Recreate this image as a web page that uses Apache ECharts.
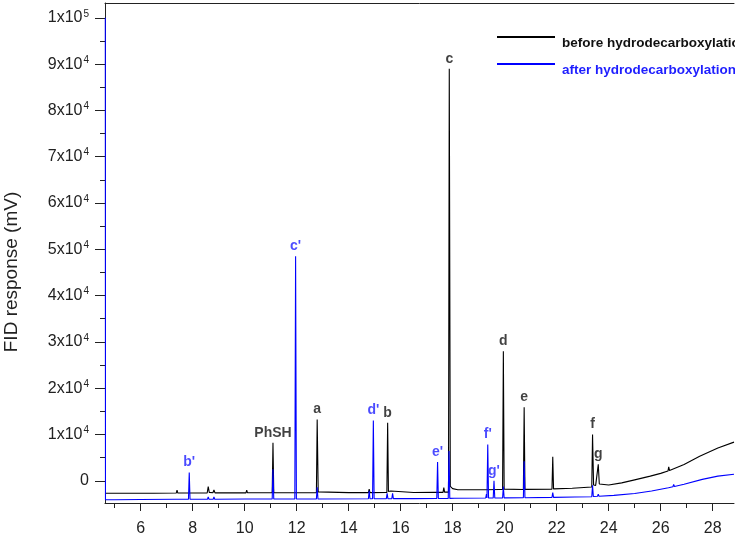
<!DOCTYPE html>
<html><head><meta charset="utf-8">
<script src="https://cdn.jsdelivr.net/npm/echarts@6/dist/echarts.min.js"></script>
<style>html,body{margin:0;padding:0;background:#fff}#c{width:735px;height:537px}</style>
</head><body><div id="c"></div>
<script>
// ---- data ----
const seriesNames = ['before hydrodecarboxylation', 'after hydrodecarboxylation'];

const beforeX = [4.63, 4.9, 5.05, 5.08, 5.11, 5.79, 5.82, 5.85, 6.5, 7.37, 7.4, 7.43, 7.84, 7.87, 7.9,
  8.56, 8.6, 8.64, 8.78, 8.82, 8.86, 9.5, 10.05, 10.08, 10.11, 10.8, 11.06, 11.09, 11.12,
  11.93, 11.96, 11.99, 12.76, 12.79, 12.83, 12.9, 14.0, 14.76, 14.79, 14.82,
  15.47, 15.5, 15.53, 15.58, 15.62, 15.66, 16.5, 17.3, 17.63, 17.66, 17.69,
  17.84, 17.87, 17.91, 18.0, 18.2, 19.0, 19.25, 19.28, 19.31, 19.8, 19.83, 19.86,
  19.92, 19.95, 19.98, 20.05, 20.72, 20.75, 20.78, 21.82, 21.85, 21.88, 22.6,
  23.35, 23.38, 23.42, 23.5, 23.57, 23.6, 23.64, 23.7, 24.0, 24.5, 25.0, 25.6, 26.0,
  26.28, 26.31, 26.34, 26.9, 27.5, 28.2, 28.82];
const beforeY = [-2700, -2700, -2700, -2450, -2700, -2680, -2350, -2680, -2680, -2650, -2000, -2650, -2650, -2300, -2650,
  -2640, -1250, -2500, -2600, -2000, -2620, -2620, -2620, -2000, -2600, -2600, -2600, 8230, -2600,
  -2590, -2300, -2590, -2580, 13250, -2400, -2550, -2560, -2550, -1830, -2550,
  -2540, 12530, -2300, -2400, -2200, -2500, -2520, -2500, -2500, -1470, -2450,
  -2450, 89000, -1200, -1700, -1950, -1950, -1950, -1830, -1950, -1900, -1470, -1900,
  -1900, 27960, -1800, -1900, -1880, 15900, -1850, -1800, 5210, -1750, -1600,
  -1350, 10020, -900, -1000, -700, 3550, -700, -1000, -900, -450, 200, 1000, 1600,
  2100, 3000, 2200, 3500, 5300, 7100, 8350];

const afterX = [4.642, 4.648, 5.0, 6.0, 7.37, 7.4, 7.43, 7.84, 7.87, 7.9,
  8.57, 8.6, 8.63, 8.79, 8.82, 8.85, 10.05, 10.08, 10.11, 11.06, 11.09, 11.12,
  11.93, 11.96, 11.99, 12.76, 12.79, 12.82, 14.76, 14.79, 14.82, 14.92, 14.95, 14.98,
  15.45, 15.48, 15.51, 15.66, 15.69, 15.72, 16.5, 17.39, 17.42, 17.45, 17.83, 17.86, 17.89,
  18.07, 18.1, 18.13, 19.27, 19.3, 19.32, 19.35, 19.38, 19.56, 19.59, 19.62,
  19.92, 19.95, 19.98, 20.72, 20.75, 20.78, 21.82, 21.85, 21.88, 22.7,
  23.35, 23.38, 23.41, 23.57, 23.6, 23.63, 24.2, 25.0, 25.65, 26.3, 26.47, 26.5, 26.53,
  26.9, 27.6, 28.2, 28.82];
const afterY = [100000, -4100, -4100, -4050, -4000, -3600, -4000, -4000, 1770, -4000,
  -3980, -3500, -3980, -3980, -3500, -3980, -3950, -3750, -3950, -3940, 2480, -3940,
  -3930, 48500, -3930, -3920, -1400, -3920, -3880, -2190, -3880, -3880, 13030, -3880,
  -3870, -2700, -3870, -3860, -2700, -3860, -3850, -3820, 4050, -3820, -3800, 6420, -3800,
  -3790, -3500, -3790, -3720, -2900, -3700, 7860, -3720, -3710, 0, -3710,
  -3700, -1250, -3700, -3650, 4200, -3650, -3580, -2540, -3580, -3500,
  -3450, -970, -3400, -3350, -2900, -3350, -3150, -2750, -2200, -1500, -1300, -800, -1250,
  -750, 300, 1000, 1400];

const labelsBefore = ['PhSH', 'a', 'b', 'c', 'd', 'e', 'f', 'g'];
const labelsBeforeX = [11.09, 12.79, 15.5, 17.87, 19.95, 20.75, 23.38, 23.6];
const labelsBeforeY = [8230, 13250, 12530, 89000, 27960, 15900, 10020, 3550];
const labelsAfter = ["b'", "c'", "d'", "e'", "f'", "g'"];
const labelsAfterX = [7.87, 11.96, 14.95, 17.42, 19.35, 19.59];
const labelsAfterY = [1770, 48500, 13030, 4050, 7860, 0];

const xMajorTicks = [6, 8, 10, 12, 14, 16, 18, 20, 22, 24, 26, 28];
const xMinorTicks = [5, 7, 9, 11, 13, 15, 17, 19, 21, 23, 25, 27];
const yMajorTicks = [0, 10000, 20000, 30000, 40000, 50000, 60000, 70000, 80000, 90000, 100000];
const yMinorTicks = [5000, 15000, 25000, 35000, 45000, 55000, 65000, 75000, 85000, 95000];
const yAxisTitle = 'FID response (mV)';

// ---- chart ----
const FONT = '"Liberation Sans", Arial, Helvetica, sans-serif';
const XMIN = 4.63, XMAX = 28.82, YMIN = -4800, YMAX = 103200;
const AX = '#222';
const BLUE = '#1e1eff';
const zip = (xs, ys) => xs.map((x, i) => [x, ys[i]]);

function yFmt(v) {
  if (v === 0) return '0';
  const e = Math.floor(Math.log10(v) + 1e-9);
  const m = Math.round(v / Math.pow(10, e));
  return '{n|' + m + 'x10}{s|' + e + '}';
}

const chart = echarts.init(document.getElementById('c'), null, {renderer: 'canvas'});
const baseX = {type: 'value', min: XMIN, max: XMAX, splitLine: {show: false}, position: 'bottom'};
const baseY = {type: 'value', min: YMIN, max: YMAX, splitLine: {show: false}, position: 'left'};

chart.setOption({
  animation: false,
  backgroundColor: '#fff',
  grid: {left: 105, top: 3, right: 1, bottom: 33, containLabel: false},
  xAxis: [
    Object.assign({}, baseX, {
      axisLine: {show: true, onZero: false, lineStyle: {color: AX, width: 1}},
      axisTick: {show: true, inside: false, length: 8, customValues: xMajorTicks, lineStyle: {color: AX}},
      axisLabel: {show: true, customValues: xMajorTicks, margin: 18, fontSize: 16, color: AX, fontFamily: FONT}
    }),
    Object.assign({}, baseX, {
      axisLine: {show: false, onZero: false},
      axisTick: {show: true, inside: false, length: 5, customValues: xMinorTicks, lineStyle: {color: AX}},
      axisLabel: {show: false}
    }),
    Object.assign({}, baseX, {
      position: 'top',
      axisLine: {show: true, onZero: false, lineStyle: {color: AX, width: 1}},
      axisTick: {show: false}, axisLabel: {show: false}
    })
  ],
  yAxis: [
    Object.assign({}, baseY, {
      axisLine: {show: true, onZero: false, lineStyle: {color: AX, width: 1}},
      axisTick: {show: true, inside: false, length: 10, customValues: yMajorTicks, lineStyle: {color: AX}},
      axisLabel: {show: true, customValues: yMajorTicks, margin: 16, color: AX, fontFamily: FONT, fontSize: 16,
        formatter: yFmt,
        rich: {
          n: {fontSize: 16, fontFamily: FONT, color: AX, lineHeight: 18},
          s: {fontSize: 10, fontFamily: FONT, color: AX, verticalAlign: 'top', lineHeight: 18, padding: [0, 0, 6, 1]}
        }}
    }),
    Object.assign({}, baseY, {
      axisLine: {show: false, onZero: false},
      axisTick: {show: true, inside: false, length: 5, customValues: yMinorTicks, lineStyle: {color: AX}},
      axisLabel: {show: false}
    })
  ],
  legend: {
    orient: 'vertical', left: 497, top: 36, padding: 0, itemWidth: 58, itemHeight: 2, itemGap: 13, icon: 'rect',
    data: [{name: seriesNames[0]}, {name: seriesNames[1]}],
    formatter: name => (name === seriesNames[0] ? '{a|' : '{b|') + name + '}',
    textStyle: {
      fontSize: 13.5, fontWeight: 'bold', fontFamily: FONT,
      rich: {
        a: {fontSize: 13.5, fontWeight: 'bold', fontFamily: FONT, color: '#111', padding: [12, 0, 0, 2]},
        b: {fontSize: 13.5, fontWeight: 'bold', fontFamily: FONT, color: BLUE, padding: [12, 0, 0, 2]}
      }
    }
  },
  graphic: [{
    type: 'text', x: 12, y: 272, rotation: Math.PI / 2,
    style: {text: yAxisTitle, font: '19px ' + FONT, fill: AX, textAlign: 'center', textVerticalAlign: 'middle'}
  }],
  series: [
    {name: seriesNames[0], type: 'line', data: zip(beforeX, beforeY), showSymbol: false, symbol: 'none',
      lineStyle: {color: '#000', width: 1.1}, itemStyle: {color: '#000'}, z: 2},
    {name: seriesNames[1], type: 'line', data: zip(afterX, afterY), showSymbol: false, symbol: 'none', clip: false,
      lineStyle: {color: '#0000ff', width: 1.1}, itemStyle: {color: '#0000ff'}, z: 3},
    {type: 'scatter', data: zip(labelsBeforeX, labelsBeforeY), symbolSize: 0, silent: true, z: 5,
      label: {show: true, position: 'top', distance: 3, color: '#111', fontSize: 14, fontWeight: 'bold', fontFamily: FONT,
        formatter: p => labelsBefore[p.dataIndex]}},
    {type: 'scatter', data: zip(labelsAfterX, labelsAfterY), symbolSize: 0, silent: true, z: 5,
      label: {show: true, position: 'top', distance: 3, color: BLUE, fontSize: 14, fontWeight: 'bold', fontFamily: FONT,
        formatter: p => labelsAfter[p.dataIndex]}}
  ]
});
</script>
</body></html>
